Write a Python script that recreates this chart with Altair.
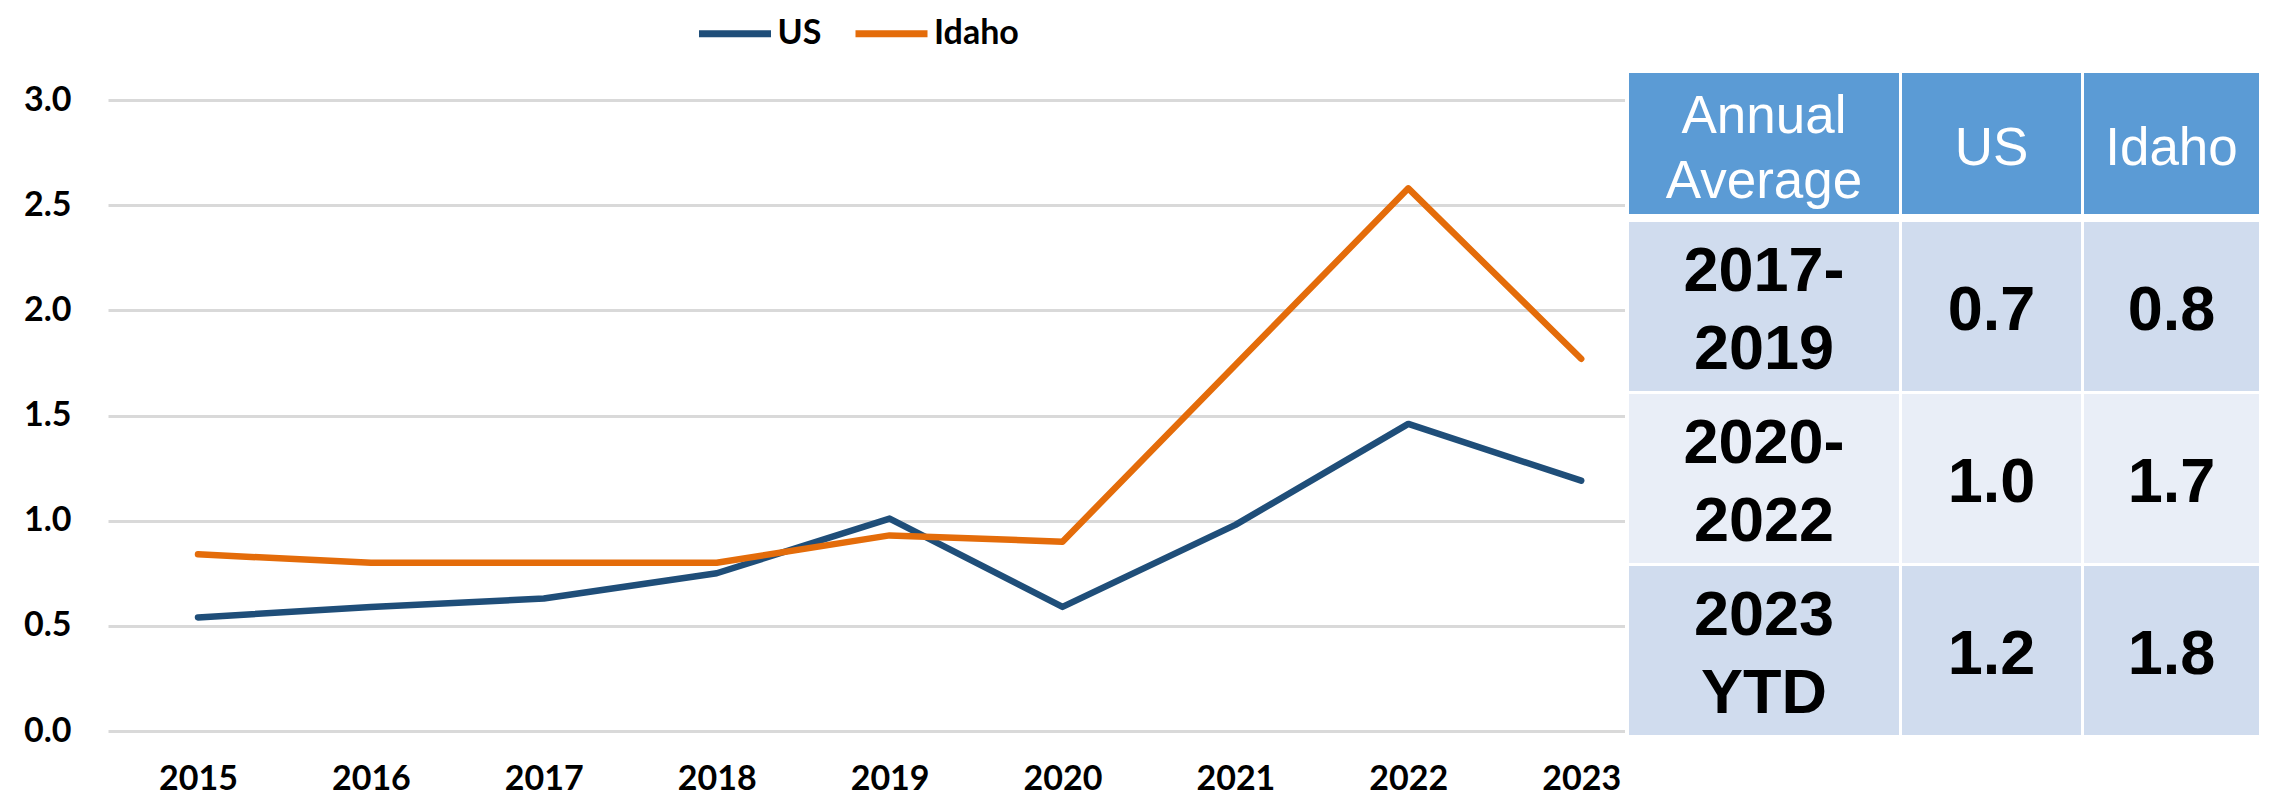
import altair as alt
import pandas as pd

# ---- chart data ----
years = [2015, 2016, 2017, 2018, 2019, 2020, 2021, 2022, 2023]
us = [0.54, 0.59, 0.63, 0.75, 1.01, 0.59, 0.98, 1.46, 1.19]
idaho = [0.84, 0.80, 0.80, 0.80, 0.93, 0.90, 1.74, 2.58, 1.77]
series = ["US", "Idaho"]
y_ticks = [0.0, 0.5, 1.0, 1.5, 2.0, 2.5, 3.0]

# ---- table data ----
table_header = ["Annual\nAverage", "US", "Idaho"]
table_periods = ["2017-\n2019", "2020-\n2022", "2023\nYTD"]
table_us = ["0.7", "1.0", "1.2"]
table_idaho = ["0.8", "1.7", "1.8"]

# ---- styles / layout ----
series_colors = ["#1F4E79", "#E46C0A"]
cell_colors = ["#5B9BD5", "#D0DCEE", "#E9EEF7"]
col_w = [270, 179, 175]
col_gap = 3
header_h, header_gap = 141, 8
row_h, row_gap = 169, 3
AX_FONT = "Lato"
TB_FONT = "Liberation Sans, Arial, sans-serif"

lines_df = pd.DataFrame(
    {"year": years * 2, "value": us + idaho,
     "series": ["US"] * len(years) + ["Idaho"] * len(years)}
)

rows_text = [table_header] + [
    [p, u, i] for p, u, i in zip(table_periods, table_us, table_idaho)
]
col_edges = []
pos = 0
for w in col_w:
    col_edges.append((pos, pos + w))
    pos += w + col_gap
table_w = pos - col_gap
row_edges = [(0, header_h)]
pos = header_h + header_gap
for _ in table_periods:
    row_edges.append((pos, pos + row_h))
    pos += row_h + row_gap
table_h = pos - row_gap

cells = []
for r, row in enumerate(rows_text):
    for c, txt in enumerate(row):
        x0, x1 = col_edges[c]
        y0, y1 = row_edges[r]
        kind = "header" if r == 0 else ("odd" if r % 2 == 1 else "even")
        cells.append({"x0": x0, "x1": x1, "y0": y0, "y1": y1,
                      "xc": (x0 + x1) / 2, "yc": (y0 + y1) / 2,
                      "text": txt, "kind": kind, "col": c})
cells_df = pd.DataFrame(cells)
bg_df = pd.DataFrame([{"x0": -4, "x1": table_w + 2, "y0": -2, "y1": table_h + 2}])

W = 2150
H = 631
px_per_year = 172.9
x_min = 2015 - 90 / px_per_year
x_max = x_min + W / px_per_year

lines = alt.Chart(lines_df).mark_line(strokeWidth=6.5, strokeCap="round", strokeJoin="round").encode(
    x=alt.X("year:Q", title=None,
            scale=alt.Scale(domain=[x_min, x_max], nice=False, zero=False),
            axis=alt.Axis(values=years, format="d", grid=False, domain=False, ticks=False,
                          labelFont=AX_FONT, labelFontWeight="bold", labelFontSize=34,
                          labelColor="black", labelPadding=31)),
    y=alt.Y("value:Q", title=None,
            scale=alt.Scale(domain=[0, 3], nice=False),
            axis=alt.Axis(values=y_ticks, format=".1f", grid=True, gridColor="#D9D9D9",
                          gridWidth=3, domain=False, ticks=False,
                          labelFont=AX_FONT, labelFontWeight="bold", labelFontSize=34,
                          labelColor="black", labelPadding=37, minExtent=100, maxExtent=100)),
    color=alt.Color("series:N", scale=alt.Scale(domain=series, range=series_colors),
                    legend=alt.Legend(title=None, orient="none", legendX=623.5, legendY=-88,
                                      direction="horizontal", symbolType="M-3,0H1",
                                      symbolSize=1296, symbolStrokeWidth=7,
                                      labelFont=AX_FONT, labelFontWeight="bold",
                                      labelFontSize=34, labelColor="black",
                                      labelOffset=3, columnPadding=19.5)),
)

T_LEFT, T_TOP = 1521, -27
tx = alt.Scale(domain=[0, table_w], range=[T_LEFT, T_LEFT + table_w])
ty = alt.Scale(domain=[0, table_h], range=[T_TOP, T_TOP + table_h])

bg = alt.Chart(bg_df).mark_rect(color="white").encode(
    x=alt.X("x0:Q", scale=tx, axis=None), x2="x1:Q",
    y=alt.Y("y0:Q", scale=ty, axis=None), y2="y1:Q",
)

rects = alt.Chart(cells_df).mark_rect().encode(
    x=alt.X("x0:Q", scale=tx, axis=None), x2="x1:Q",
    y=alt.Y("y0:Q", scale=ty, axis=None), y2="y1:Q",
    color=alt.Color("kind:N", scale=alt.Scale(domain=["header", "odd", "even"], range=cell_colors),
                    legend=None),
)


def text_layer(filt, size, weight, color, lh, dy):
    mk = dict(font=TB_FONT, fontSize=size, color=color, align="center", baseline="middle",
              lineBreak="\n", lineHeight=lh, dy=dy)
    if weight:
        mk["fontWeight"] = weight
    return alt.Chart(cells_df).transform_filter(filt).mark_text(**mk).encode(
        x=alt.X("xc:Q", scale=tx, axis=None),
        y=alt.Y("yc:Q", scale=ty, axis=None),
        text="text:N",
    )


head_multi = text_layer((alt.datum.kind == "header") & (alt.datum.col == 0), 53, None, "white", 65, -27)
head_single = text_layer((alt.datum.kind == "header") & (alt.datum.col > 0), 53, None, "white", 65, 5)
body_multi = text_layer((alt.datum.kind != "header") & (alt.datum.col == 0), 63, "bold", "black", 78, -35)
body_single = text_layer((alt.datum.kind != "header") & (alt.datum.col > 0), 63, "bold", "black", 78, 4)

table = alt.layer(bg, rects, head_multi, head_single, body_multi, body_single)

chart = alt.layer(lines, table).resolve_scale(
    x="independent", y="independent", color="independent"
).properties(
    width=W, height=H, padding={"left": 0, "top": 4, "right": 0, "bottom": 0}
).configure_view(strokeWidth=0)

chart.save("out.html", embed_options={"renderer": "svg", "actions": False})
